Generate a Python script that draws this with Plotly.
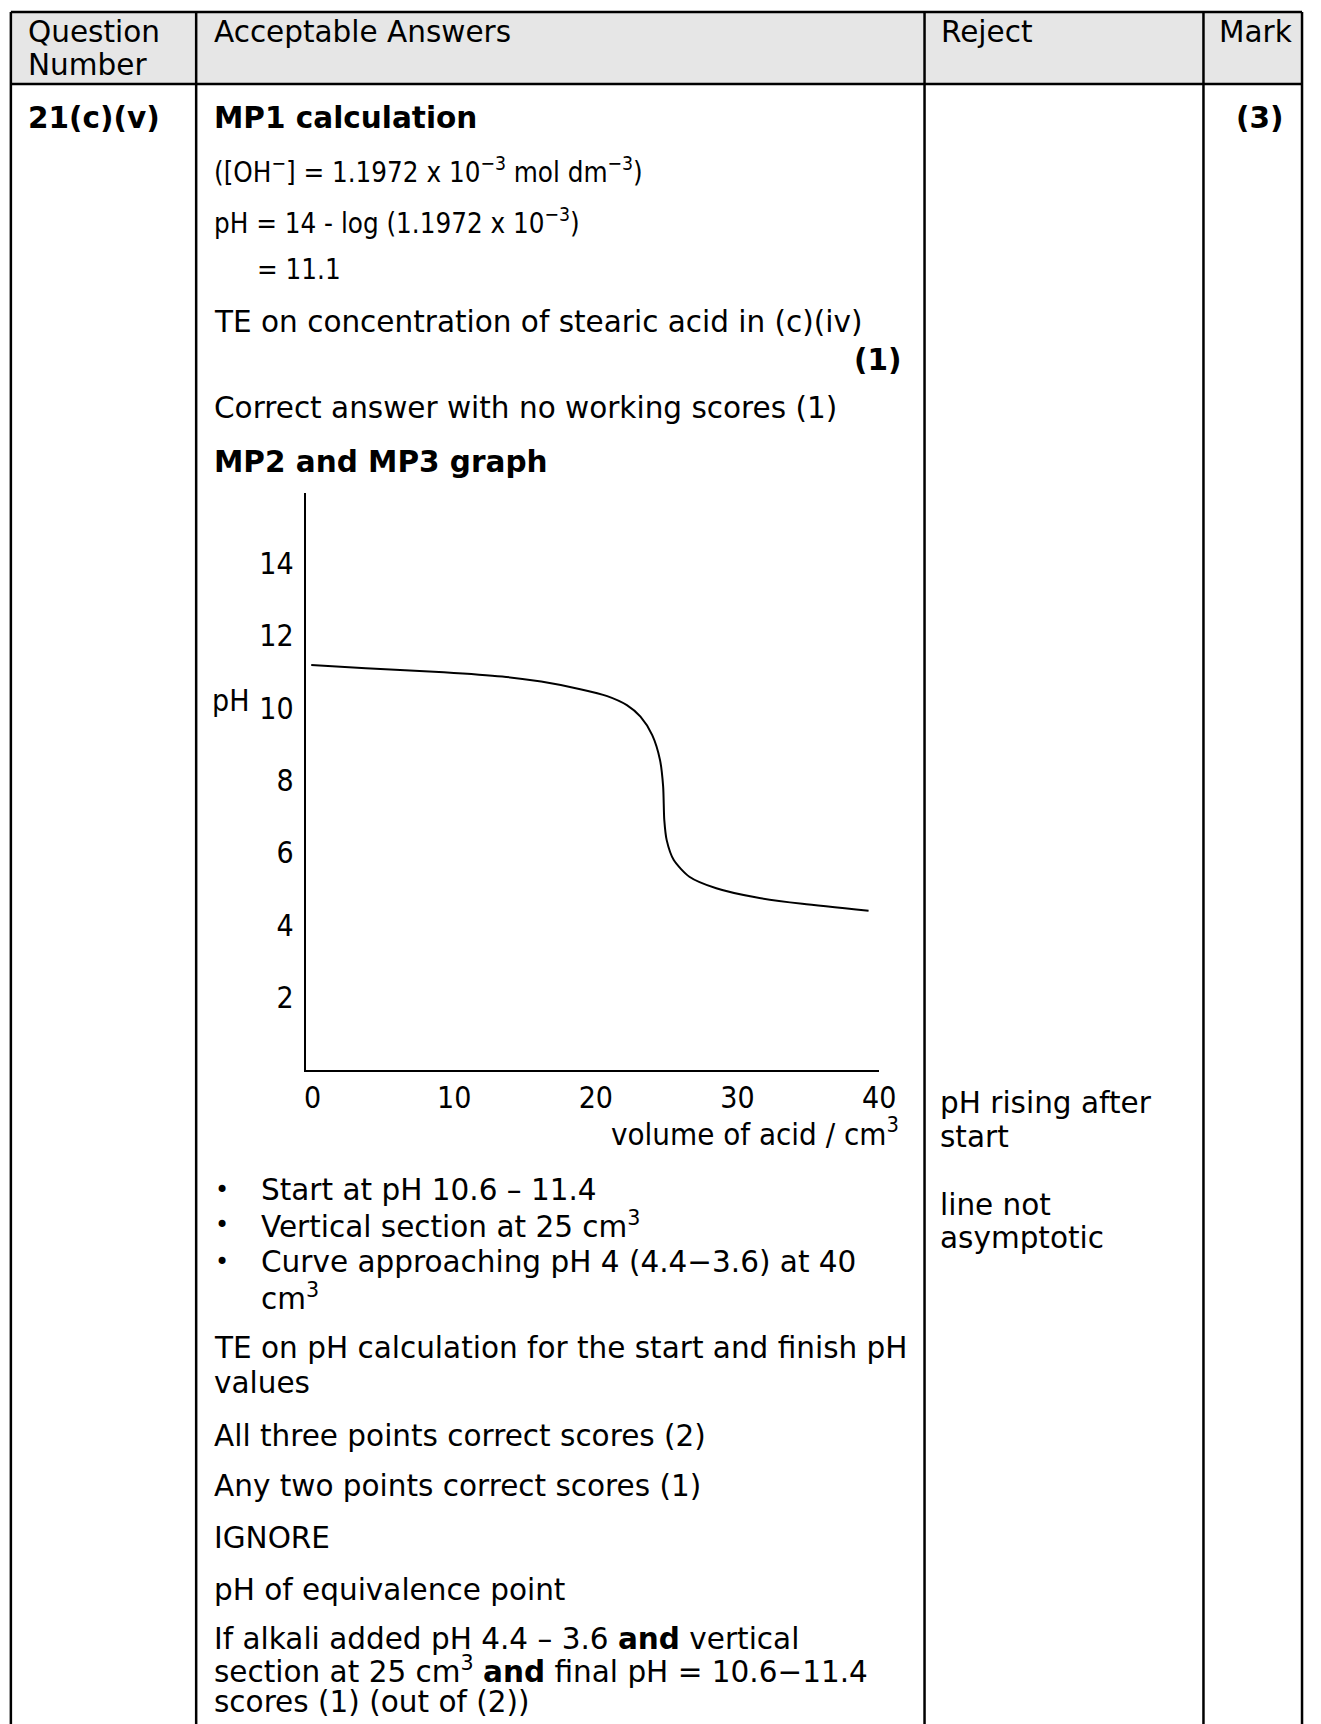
import plotly.graph_objects as go

W, H = 1321, 1724

# ---- chart data ----
volume_cm3 = [-0.09, 3.76, 9.27, 13.39, 16.14, 18.9, 20.8, 22.19, 23.15, 23.98,
              24.53, 24.75, 24.83, 25.0, 25.5, 26.6, 28.5, 31.27, 34.57, 39.25]
ph_values = [11.19, 11.10, 10.99, 10.87, 10.73, 10.52, 10.33, 10.08, 9.76, 9.25,
             8.56, 7.83, 6.91, 6.35, 5.80, 5.34, 5.02, 4.77, 4.59, 4.40]
x_tick_vals = [0, 10, 20, 30, 40]
y_tick_vals = [2, 4, 6, 8, 10, 12, 14]

# ---- table text ----
header_cells = ["Question", "Number", "Acceptable Answers", "Reject", "Mark"]
question_id = "21(c)(v)"
total_mark = "(3)"
reject_lines = ["pH rising after", "start", "line not", "asymptotic"]
bullet_lines = ["Start at pH 10.6 – 11.4",
                "Vertical section at 25 cm<sup>3</sup>",
                "Curve approaching pH 4 (4.4−3.6) at 40",
                "cm<sup>3</sup>"]

VERD = "DejaVu Sans, Verdana, sans-serif"
COND = "DejaVu Sans Condensed, Liberation Sans Narrow, sans-serif"
FS = 29.5      # main text size
FC = 27.5      # condensed formula text size


def px(x):
    return x / W


def py(y):
    return 1 - y / H


def ann(x, y, text, size=FS, family=VERD, xanchor="left"):
    return dict(x=px(x), y=py(y), xref="paper", yref="paper", text=text,
                showarrow=False, xanchor=xanchor, yanchor="middle", align="left",
                font=dict(family=family, size=size, color="black"))


fig = go.Figure()
fig.add_trace(go.Scatter(x=volume_cm3, y=ph_values, mode="lines",
                         line=dict(color="black", width=2, shape="spline", smoothing=0.7),
                         hoverinfo="skip", showlegend=False))

# plot area in pixels
X0, X1 = 308, 890
Y0, Y1 = 493, 1070

fig.update_layout(
    width=W, height=H, autosize=False,
    margin=dict(l=0, r=0, t=0, b=0),
    paper_bgcolor="white", plot_bgcolor="white",
    showlegend=False,
    xaxis=dict(domain=[px(X0), px(X1)], range=[-0.49, 40.0],
               showline=True, linecolor="black", linewidth=2,
               showgrid=False, zeroline=False, ticks="",
               tickvals=x_tick_vals, ticktext=[str(v) for v in x_tick_vals],
               tickfont=dict(family=COND, size=30, color="black"),
               ticklabelstandoff=0, fixedrange=True),
    yaxis=dict(domain=[py(Y1), py(Y0)], range=[0, 15.94],
               showline=True, linecolor="black", linewidth=2,
               showgrid=False, zeroline=False, ticks="",
               tickvals=y_tick_vals, ticktext=[str(v) for v in y_tick_vals],
               tickfont=dict(family=COND, size=30, color="black"),
               ticklabelstandoff=4, fixedrange=True),
)

# ---- table shapes ----
LX, C1, C2, C3, RX = 9, 197, 936, 1219, 1319
TOP, HDR = 12, 84
shapes = [
    dict(type="rect", xref="paper", yref="paper", x0=px(LX), x1=px(RX), y0=py(HDR), y1=py(TOP),
         fillcolor="#e6e6e6", line=dict(width=0), layer="below"),
]
for (xa, ya, xb, yb) in [(LX, TOP, RX, TOP), (LX, HDR, RX, HDR)]:
    shapes.append(dict(type="line", xref="paper", yref="paper", x0=px(xa), y0=py(ya),
                       x1=px(xb), y1=py(yb), line=dict(color="black", width=2.5)))
for xv in [LX, C1, C2, C3, RX]:
    shapes.append(dict(type="line", xref="paper", yref="paper", x0=px(xv), y0=py(TOP),
                       x1=px(xv), y1=py(H + 5), line=dict(color="black", width=2.5)))
fig.update_layout(shapes=shapes)

anns = []
# header
anns.append(ann(24, 32, header_cells[0]))
anns.append(ann(24, 65, header_cells[1]))
anns.append(ann(213, 32, header_cells[2]))
anns.append(ann(951, 32, header_cells[3]))
anns.append(ann(1233, 32, header_cells[4]))
# question / mark
anns.append(ann(24, 118, "<b>" + question_id + "</b>"))
anns.append(ann(1250, 118, "<b>" + total_mark + "</b>"))
# answers column
anns.append(ann(213, 118, "<b>MP1 calculation</b>"))
anns.append(ann(213, 170, "([OH<sup>−</sup>] = 1.1972 x 10<sup>−3</sup> mol dm<sup>−3</sup>)", FC, COND))
anns.append(ann(213, 221, "pH = 14 - log (1.1972 x 10<sup>−3</sup>)", FC, COND))
anns.append(ann(257, 269, "= 11.1", FC, COND))
anns.append(ann(213, 322, "TE on concentration of stearic acid in (c)(iv)"))
anns.append(ann(915, 360, "<b>(1)</b>", xanchor="right"))
anns.append(ann(213, 408, "Correct answer with no working scores (1)"))
anns.append(ann(213, 462, "<b>MP2 and MP3 graph</b>"))
# chart labels
anns.append(ann(232, 701, "pH", 30, COND, xanchor="center"))
anns.append(ann(912, 1132, "volume of acid / cm<sup>3</sup>", 31, COND, xanchor="right"))
# bullets
for yy, t in zip([1190, 1225, 1262, 1297], bullet_lines):
    if not t.startswith("cm"):
        anns.append(ann(223, yy, "•", 24, VERD, xanchor="center"))
    anns.append(ann(261, yy, t))
anns.append(ann(213, 1348, "TE on pH calculation for the start and finish pH"))
anns.append(ann(213, 1383, "values"))
anns.append(ann(213, 1436, "All three points correct scores (2)"))
anns.append(ann(213, 1486, "Any two points correct scores (1)"))
anns.append(ann(213, 1538, "IGNORE"))
anns.append(ann(213, 1590, "pH of equivalence point"))
anns.append(ann(213, 1639, "If alkali added pH 4.4 – 3.6 <b>and</b> vertical"))
anns.append(ann(213, 1670, "section at 25 cm<sup>3</sup> <b>and</b> final pH = 10.6−11.4"))
anns.append(ann(213, 1702, "scores (1) (out of (2))"))
# reject column
for yy, t in zip([1103, 1137, 1205, 1238], reject_lines):
    anns.append(ann(950, yy, t))

fig.update_layout(annotations=anns)

fig.write_html(
    "out.html",
    config={"displayModeBar": False, "staticPlot": True},
    post_script="document.body.style.margin='0';document.body.style.overflow='hidden';",
)
